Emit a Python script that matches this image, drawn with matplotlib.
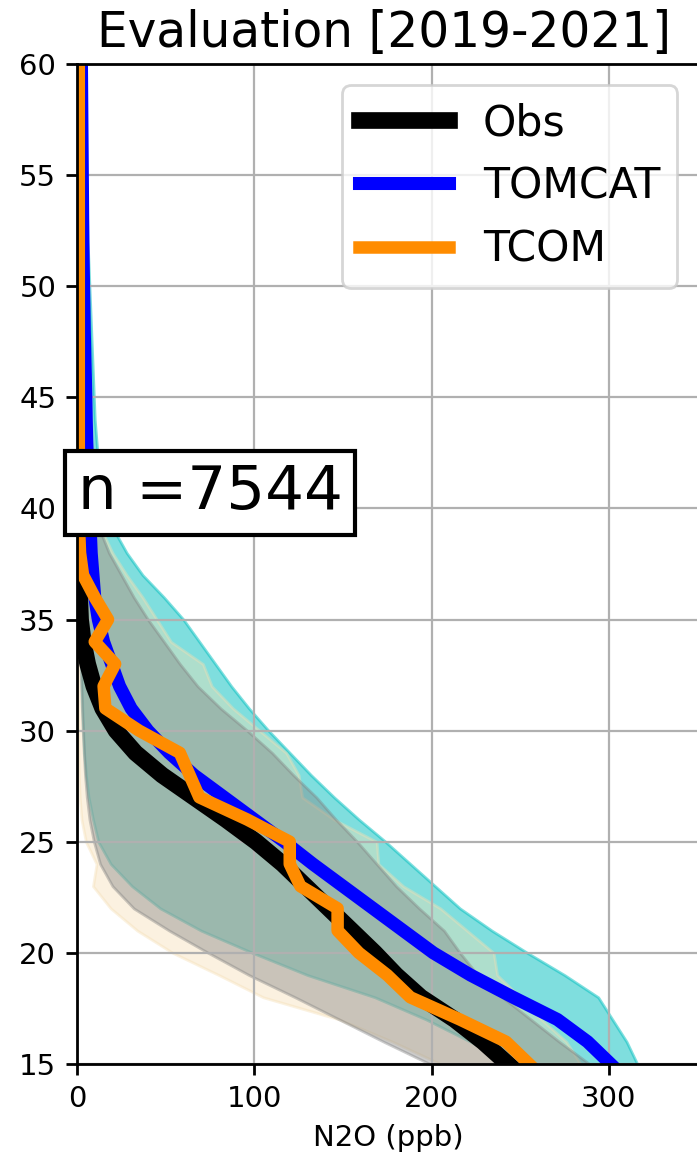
import numpy as np
import matplotlib.pyplot as plt

# altitude levels (km)
alt = np.arange(15, 61)

# N2O (ppb) profiles, 15 km -> 60 km
obs_mean = [243, 229, 213, 194, 180, 168, 155, 142, 129, 116,
            101, 84, 66, 48, 33, 22, 14.5, 9.5, 6, 3.5,
            2, 1.5, 1.2, 1.0, 0.9, 0.8, 0.7, 0.6, 0.6, 0.6,
            0.5, 0.5, 0.5, 0.5, 0.5, 0.5, 0.5, 0.5, 0.5, 0.5,
            0.5, 0.5, 0.5, 0.5, 0.5, 0.5]
obs_lo = [199, 173, 148, 123, 97, 74, 52, 32, 20, 13,
          9.5, 7, 5.5, 4.5, 3.8, 3.2, 2.7, 2.3, 2.0, 1.7,
          1.5, 1.3, 1.1, 1.0, 0.9, 0.8, 0.7, 0.6, 0.6, 0.5,
          0.5, 0.5, 0.4, 0.4, 0.4, 0.4, 0.3, 0.3, 0.3, 0.3,
          0.3, 0.3, 0.3, 0.3, 0.3, 0.3]
obs_hi = [289, 272, 256, 240, 226, 216, 207, 193, 180, 169,
          158, 146, 135, 122, 110, 96, 81, 68, 58, 49,
          40, 32, 25, 18, 13, 10, 8, 6, 4.5, 3.5,
          3, 2.5, 2.2, 2, 1.8, 1.6, 1.5, 1.4, 1.3, 1.2,
          1.1, 1.0, 1.0, 0.9, 0.9, 0.9]

tomcat_mean = [301, 288, 271, 246, 222, 201, 184, 167, 150, 133,
               117, 100, 83, 66, 52, 40, 30.5, 24, 19.5, 15,
               12, 10, 9, 8, 7.5, 7, 6.5, 6, 5.5, 5.2,
               5, 4.7, 4.4, 4.1, 3.9, 3.7, 3.5, 3.3, 3.2, 3.1,
               3.0, 2.9, 2.8, 2.7, 2.6, 2.5]
tomcat_lo = [245, 222, 197, 168, 130, 99, 70, 47, 31, 19,
             12, 9, 6.5, 5, 4, 3.5, 3, 2.6, 2.3, 2,
             1.8, 1.6, 1.5, 1.4, 1.3, 1.2, 1.1, 1.0, 1.0, 0.9,
             0.9, 0.8, 0.8, 0.8, 0.7, 0.7, 0.7, 0.7, 0.6, 0.6,
             0.6, 0.6, 0.6, 0.5, 0.5, 0.5]
tomcat_hi = [316, 310, 302, 294, 275, 254, 234, 216, 202, 188,
             174, 159, 145, 132, 120, 108, 97, 87, 78, 69,
             60, 49, 37, 28, 21, 16.5, 13.5, 12, 11, 10,
             9.5, 9, 8.5, 8, 7.5, 7, 6.5, 6, 5.7, 5.4,
             5.1, 4.8, 4.5, 4.2, 4, 3.8]

tcom_mean = [255, 242, 216, 188, 175, 159, 147, 147, 126, 120,
             120, 96, 69, 63.5, 58, 35, 16, 15, 21.5, 10,
             17.5, 10, 3.4, 1.7, 1.2, 1.0, 1.0, 1.0, 1.0, 1.0,
             1.0, 1.0, 1.0, 1.0, 1.0, 1.0, 1.0, 1.0, 1.0, 1.0,
             1.0, 1.0, 1.0, 1.0, 1.0, 1.0]
tcom_lo = [205, 178, 148, 105, 80, 54, 34, 19, 9, 11,
           5, 2.5, 1.5, 1.0, 0.8, 0.6, 0.5, 0.4, 0.4, 0.3,
           0.3, 0.3, 0.3, 0.3, 0.3, 0.3, 0.3, 0.3, 0.3, 0.3,
           0.3, 0.3, 0.3, 0.3, 0.3, 0.3, 0.3, 0.3, 0.3, 0.3,
           0.3, 0.3, 0.3, 0.3, 0.3, 0.3]
tcom_hi = [284, 276, 262, 250, 237, 235, 220, 205, 184, 170,
           169, 145, 127, 125, 118, 103, 88, 76, 71, 53,
           45, 37, 28, 20, 14, 10, 7, 5, 4, 3.5,
           3, 2.8, 2.6, 2.5, 2.4, 2.3, 2.2, 2.1, 2.0, 2.0,
           2.0, 2.0, 2.0, 2.0, 2.0, 2.0]

n_obs = 7544

fig = plt.figure(figsize=(3.485, 5.8), dpi=200)
ax = fig.add_axes([0.1105, 0.0828, 0.894, 0.862])

# spread of each dataset
ax.fill_betweenx(alt, tomcat_lo, tomcat_hi, color='c', alpha=0.5)
ax.fill_betweenx(alt, tcom_lo, tcom_hi, color='wheat', alpha=0.4)
ax.fill_betweenx(alt, obs_lo, obs_hi, color='grey', alpha=0.4)

# mean profiles
ax.plot(obs_mean, alt, color='k', lw=6, label='Obs')
ax.plot(tomcat_mean, alt, color='b', lw=4.7, label='TOMCAT')
ax.plot(tcom_mean, alt, color='darkorange', lw=4.5, label='TCOM')

ax.set_xlim(0, 351.5)
ax.set_ylim(15, 60)
ax.set_xticks([0, 100, 200, 300])
ax.set_yticks(np.arange(15, 61, 5))
ax.tick_params(labelsize=10.5, length=4, width=1.0)
for sp in ax.spines.values():
    sp.set_linewidth(1.0)
ax.grid(True)

ax.set_xlabel('N2O (ppb)', fontsize=10.5)
ax.set_title('Evaluation [2019-2021]', fontsize=17.5, x=0.492)

ax.text(75, 40.7, 'n =' + str(n_obs), fontsize=22, ha='center', va='center',
        zorder=5, bbox=dict(boxstyle='square,pad=0.2', facecolor='white',
                            edgecolor='black', linewidth=1.5))

ax.legend(loc='upper right', bbox_to_anchor=(0.963, 0.979), borderaxespad=0,
          fontsize=15.3, handlelength=2.1)

fig.savefig('out.png', dpi=200)
